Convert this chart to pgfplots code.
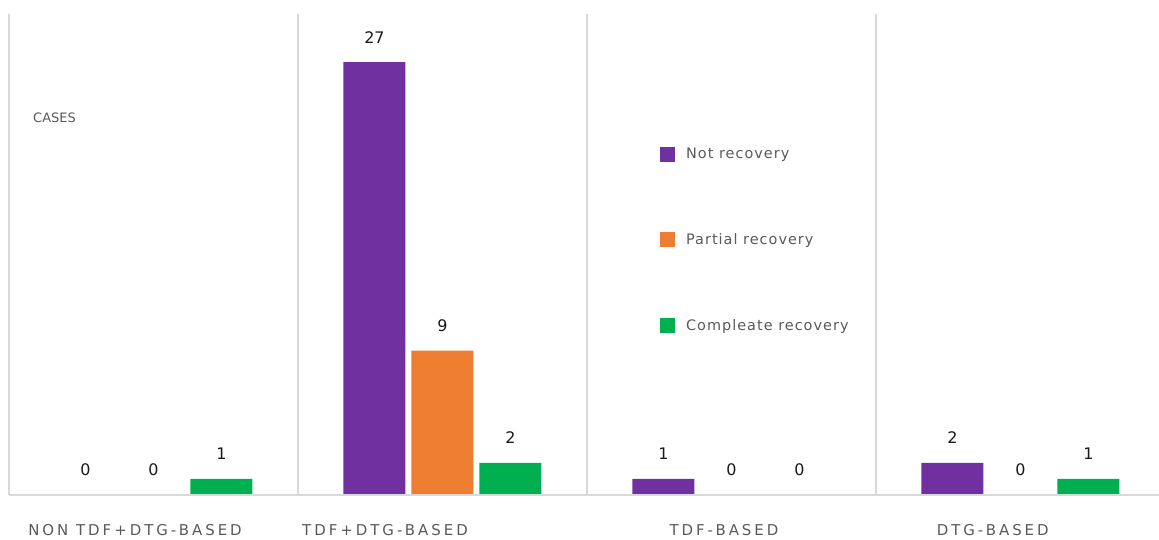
\documentclass[border=0pt]{standalone}
\usepackage{pgfplots}
\pgfplotsset{compat=1.18}
\usepackage{fontspec}
\setmainfont{DejaVu Sans}
\definecolor{cpurple}{HTML}{7030A0}
\definecolor{corange}{HTML}{ED7D31}
\definecolor{cgreen}{HTML}{00B050}
\definecolor{sep}{HTML}{D9D9D9}
\definecolor{lbl}{HTML}{595959}
\begin{document}
\begin{tikzpicture}
\begin{axis}[
  scale only axis, width=1156bp, height=481bp,
  at={(0,0)}, anchor=south west,
  xmin=0, xmax=4, ymin=0, ymax=30,
  axis line style={draw=none},
  ytick=\empty,
  xtick={0.436,1.301,2.474,3.404},
  xticklabels={NON TDF+DTG-BASED, TDF+DTG-BASED, TDF-BASED, DTG-BASED},
  major tick length=0pt, minor tick length=0pt,
  x tick label style={font=\fontsize{15}{15}\selectfont\addfontfeature{LetterSpace=20}, text=lbl, anchor=center, yshift=-35bp},
  minor xtick={0,1,2,3,4},
  xminorgrids=true,
  minor grid style={sep, line width=1.3bp},
  ybar=6bp, bar width=62bp,
  nodes near coords,
  /pgf/number format/assume math mode=true,
  every node near coord/.append style={font=\fontsize{16}{16}\selectfont, text=black!90, anchor=center, yshift=25bp},
  legend style={at={(rel axis cs:0.5631,0.7256)}, anchor=north west, draw=none, fill=none, inner sep=0pt,
    font=\fontsize{14.5}{14.5}\selectfont\addfontfeature{LetterSpace=7}, text=lbl, row sep=69.5bp, cells={anchor=west},
    nodes={inner xsep=0pt}},
  legend cell align=left,
  clip=false,
]
\addplot[fill=cpurple, draw=none, area legend, legend image code/.code={\fill[cpurple] (0bp,-7.5bp) rectangle (15bp,7.5bp);}] coordinates {(0.5,0) (1.5,27) (2.5,1) (3.5,2)};
\addplot[fill=corange, draw=none, area legend, legend image code/.code={\fill[corange] (0bp,-7.5bp) rectangle (15bp,7.5bp);}] coordinates {(0.5,0) (1.5,9) (2.5,0) (3.5,0)};
\addplot[fill=cgreen, draw=none, area legend, legend image code/.code={\fill[cgreen] (0bp,-7.5bp) rectangle (15bp,7.5bp);}] coordinates {(0.5,1) (1.5,2) (2.5,0) (3.5,1)};
\legend{\hspace{11bp}Not recovery, \hspace{11bp}Partial recovery, \hspace{11bp}Compleate recovery}
\draw[sep, line width=1.3bp] (rel axis cs:0,0) -- (rel axis cs:1,0);
\node[anchor=west, font=\fontsize{13}{13}\selectfont, text=lbl, inner sep=0pt] at (rel axis cs:0.0208,0.7838) {CASES};
\end{axis}
\pgfresetboundingbox
\path[use as bounding box] (-9bp,-45bp) rectangle (1150bp,495bp);
\end{tikzpicture}
\end{document}
